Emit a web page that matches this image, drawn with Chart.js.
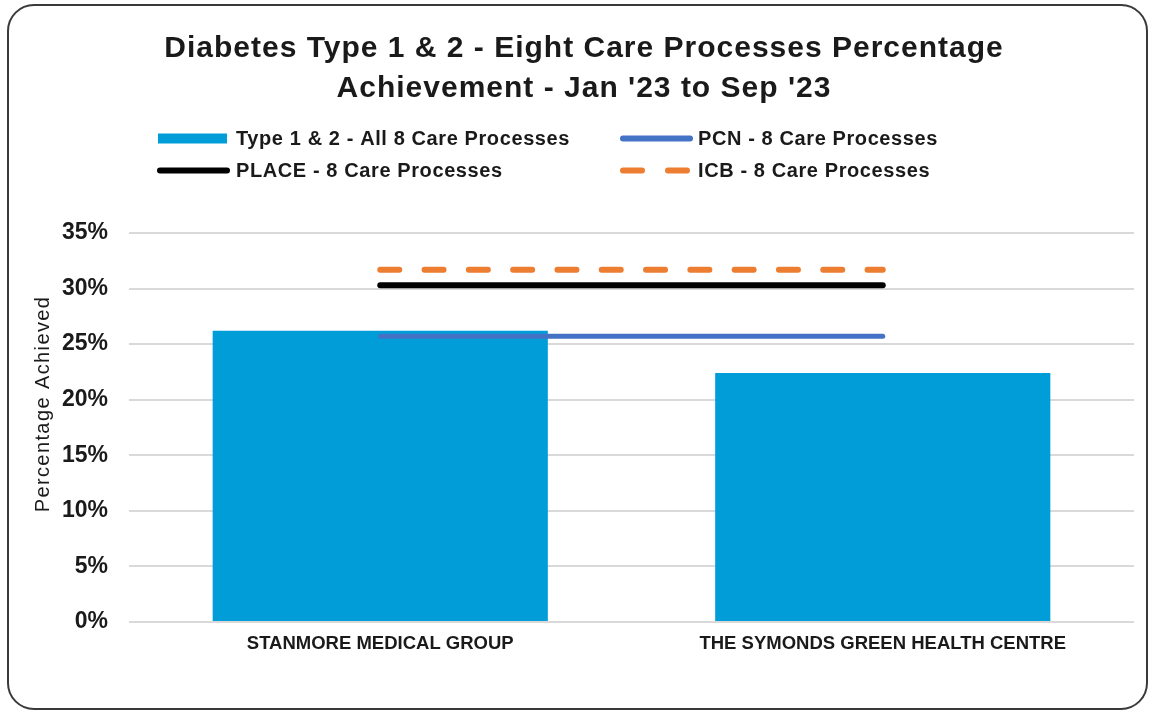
<!DOCTYPE html>
<html>
<head>
<meta charset="utf-8">
<script src="https://cdn.jsdelivr.net/npm/chart.js@4.4.0/dist/chart.umd.min.js"></script>
<style>
  html, body { margin: 0; padding: 0; background: #ffffff; }
  #wrap { position: relative; width: 1150px; height: 713px; }
</style>
</head>
<body>
<div id="wrap"><canvas id="c" width="1150" height="713"></canvas></div>
<script>
const categories = ['STANMORE MEDICAL GROUP', 'THE SYMONDS GREEN HEALTH CENTRE'];
const practiceValues = [26.2, 22.4];
const pcnValues = [25.7, 25.7];
const placeValues = [30.3, 30.3];
const icbValues = [31.7, 31.7];
const yTicks = [0, 5, 10, 15, 20, 25, 30, 35];
const titleLines = ['Diabetes Type 1 & 2 - Eight Care Processes Percentage', "Achievement - Jan '23 to Sep '23"];
const seriesNames = ['Type 1 & 2 - All 8 Care Processes', 'PCN - 8 Care Processes', 'PLACE - 8 Care Processes', 'ICB - 8 Care Processes'];
const yAxisTitle = 'Percentage Achieved';

const FONT = "'Liberation Sans', Arial, sans-serif";
const TEXT = '#1a1a1a';

const framePlugin = {
  id: 'frame',
  beforeDraw(chart) {
    const ctx = chart.ctx;
    ctx.save();
    ctx.fillStyle = '#ffffff';
    ctx.fillRect(0, 0, chart.width, chart.height);
    ctx.beginPath();
    ctx.roundRect(8, 5, 1139, 704, 26);
    ctx.lineWidth = 2;
    ctx.strokeStyle = '#3a3a3a';
    ctx.stroke();
    ctx.restore();
  }
};

const headerPlugin = {
  id: 'header',
  afterDraw(chart) {
    const ctx = chart.ctx;
    ctx.save();
    // Title
    ctx.font = "bold 30px " + FONT;
    ctx.letterSpacing = '1px';
    ctx.fillStyle = TEXT;
    ctx.textAlign = 'center';
    ctx.textBaseline = 'alphabetic';
    ctx.fillText(titleLines[0], 584, 57);
    ctx.fillText(titleLines[1], 584, 97);

    // Y axis title
    ctx.save();
    ctx.translate(49, 404);
    ctx.rotate(-Math.PI / 2);
    ctx.font = "20px " + FONT;
    ctx.letterSpacing = '1.4px';
    ctx.textAlign = 'center';
    ctx.textBaseline = 'alphabetic';
    ctx.fillText(yAxisTitle, 0, 0);
    ctx.restore();

    // Legend
    const ds = chart.data.datasets;
    const pos = [
      {x: 157, y: 138.5}, {x: 620, y: 138.5},
      {x: 157, y: 170.5}, {x: 620, y: 170.5}
    ];
    ctx.font = "bold 20px " + FONT;
    ctx.letterSpacing = '0.6px';
    ctx.textAlign = 'left';
    ctx.textBaseline = 'middle';
    ds.forEach((d, i) => {
      const p = pos[i];
      if (d.type === 'bar') {
        ctx.fillStyle = d.backgroundColor;
        ctx.fillRect(p.x + 1, p.y - 5, 69, 10);
      } else {
        ctx.beginPath();
        ctx.lineCap = 'round';
        ctx.lineWidth = 6;
        ctx.strokeStyle = d.borderColor;
        ctx.setLineDash(d.borderDash && d.borderDash.length ? [19, 26] : []);
        ctx.moveTo(p.x + 3, p.y);
        ctx.lineTo(p.x + 70, p.y);
        ctx.stroke();
        ctx.setLineDash([]);
      }
      ctx.fillStyle = TEXT;
      ctx.fillText(d.label, p.x + (i % 2 === 0 ? 79 : 78), p.y + 1);
    });
    ctx.restore();
  }
};

new Chart(document.getElementById('c'), {
  data: {
    labels: categories,
    datasets: [
      {
        type: 'bar', label: seriesNames[0], data: practiceValues,
        backgroundColor: '#009DD9', barPercentage: 0.667, categoryPercentage: 1.0, order: 5
      },
      {
        type: 'line', label: seriesNames[1], data: pcnValues,
        borderColor: '#4472C4', borderWidth: 5, pointRadius: 0, borderCapStyle: 'round', order: 3
      },
      {
        type: 'line', label: seriesNames[2], data: placeValues,
        borderColor: '#000000', borderWidth: 6, pointRadius: 0, borderCapStyle: 'round', order: 2
      },
      {
        type: 'line', label: seriesNames[3], data: icbValues,
        borderColor: '#ED7D31', borderWidth: 6, pointRadius: 0, borderCapStyle: 'round',
        borderDash: [19, 25.3], order: 1
      }
    ]
  },
  options: {
    responsive: false,
    animation: false,
    layout: { padding: { top: 233, left: 20, right: 16, bottom: 0 } },
    plugins: {
      legend: { display: false },
      tooltip: { enabled: false },
      title: { display: false }
    },
    scales: {
      x: {
        grid: { display: false, drawTicks: false },
        border: { display: false },
        ticks: {
          color: TEXT, padding: 11, maxRotation: 0,
          font: { family: FONT, size: 18.5, weight: 'bold' }
        },
        afterFit(scale) { scale.height = 91; }
      },
      y: {
        min: 0, max: 35,
        afterBuildTicks(scale) { scale.ticks = yTicks.map(v => ({ value: v })); },
        grid: { color: '#d9d9d9', lineWidth: 2, drawTicks: false },
        border: { display: false },
        ticks: {
          color: TEXT, padding: 21,
          font: { family: FONT, size: 23, weight: 'bold' },
          callback: v => v + '%'
        },
        afterFit(scale) { scale.width = 109; }
      }
    }
  },
  plugins: [framePlugin, headerPlugin]
});
</script>
</body>
</html>
